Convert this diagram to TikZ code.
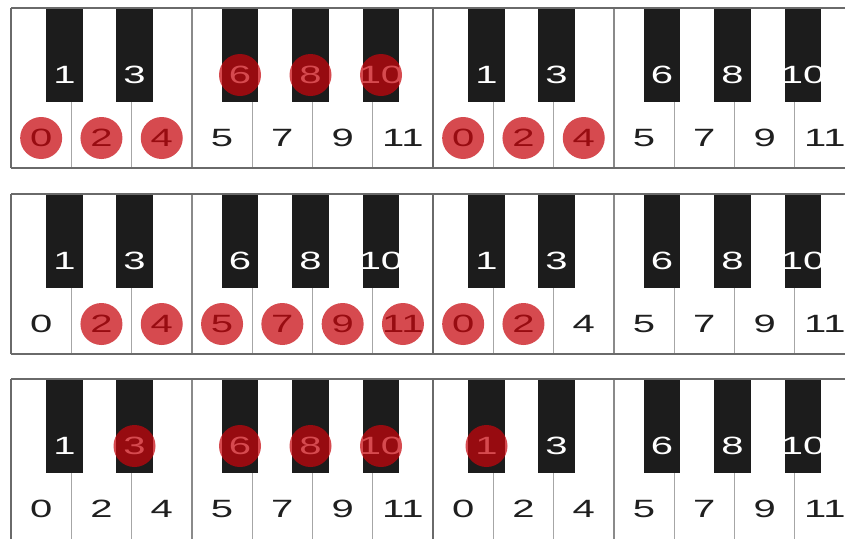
\documentclass[tikz,border=0pt]{standalone}
\usepackage{fontspec}
\setmainfont{Liberation Sans}
\definecolor{keyblack}{HTML}{1C1C1C}
\definecolor{sepgray}{HTML}{A6A6A6}
\definecolor{midgray}{HTML}{8A8A8A}
\definecolor{edgegray}{HTML}{6A6A6A}
\definecolor{markred}{RGB}{199,5,12}
\tikzset{
  wlab/.style={font=\fontsize{25}{25}\selectfont, text=black!88, xscale=1.6, inner sep=0pt, anchor=center},
  blab/.style={wlab, text=white},
  hl/.style={circle, fill=markred, fill opacity=0.72, draw=none, minimum size=42pt, inner sep=0pt},
  sepline/.style={sepgray, line width=1.1pt},
  midline/.style={midgray, line width=1.3pt},
  edgeline/.style={edgegray, line width=1.5pt},
  bkey/.style={fill=keyblack},
}
\begin{document}
\begin{tikzpicture}[x=1pt,y=-1pt]
\useasboundingbox (0,0) rectangle (845,539);
\fill[white] (0,0) rectangle (845,539);
\foreach \s/\T in {1/8,2/194,3/379} {
  \foreach \o/\X in {0/11,1/433} {
    % white key separators
    \foreach \i in {1,2,4,5,6}
      \draw[sepline] (\X+\i*60.3,\T) -- (\X+\i*60.3,\T+160);
    \draw[midline] (\X+3*60.3,\T) -- (\X+3*60.3,\T+160);
    \draw[edgeline] (\X,\T) -- (\X,\T+160);
    % black keys
    \foreach \c in {53.5,123.5,229,299.5,370}
      \fill[bkey] (\X+\c-18.25,\T) rectangle (\X+\c+18.25,\T+94);
    % white key labels
    \foreach \n/\p in {0/0,2/1,4/2,5/3,7/4,9/5,11/6}
      \node[wlab] (s\s-o\o-w\n) at (\X+\p*60.3+30.15,\T+130) {\n};
    % black key labels
    \foreach \n/\c in {1/53.5,3/123.5,6/229,8/299.5,10/370}
      \node[blab] (s\s-o\o-b\n) at (\X+\c,\T+67) {\n};
  }
  \draw[edgeline] (11,\T) -- (845,\T);
}
\draw[edgeline] (11,168) -- (845,168);
\draw[edgeline] (11,354) -- (845,354);
% highlights, strip 1
\foreach \k in {o0-w0,o0-w2,o0-w4,o0-b6,o0-b8,o0-b10,o1-w0,o1-w2,o1-w4}
  \node[hl] (h1-\k) at (s1-\k) {};
% highlights, strip 2
\foreach \k in {o0-w2,o0-w4,o0-w5,o0-w7,o0-w9,o0-w11,o1-w0,o1-w2}
  \node[hl] (h2-\k) at (s2-\k) {};
% highlights, strip 3
\foreach \k in {o0-b3,o0-b6,o0-b8,o0-b10,o1-b1}
  \node[hl] (h3-\k) at (s3-\k) {};
\end{tikzpicture}
\end{document}
